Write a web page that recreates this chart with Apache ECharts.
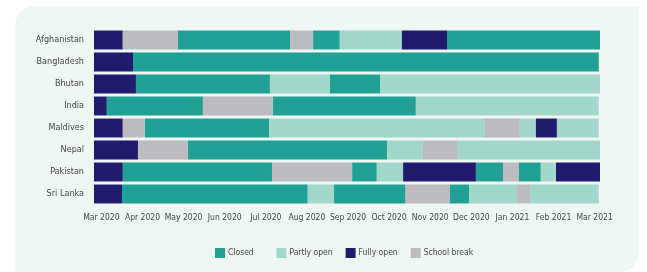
<!DOCTYPE html>
<html>
<head>
<meta charset="utf-8">
<script src="https://cdn.jsdelivr.net/npm/echarts@6/dist/echarts.min.js"></script>
<style>
  html, body { margin: 0; padding: 0; background: #fff; }
  #chart { width: 647px; height: 272px; }
</style>
</head>
<body>
<div id="chart"></div>
<script>
// months counted from Mar 2020 (0) to Mar 2021 (12)
const monthLabels = ['Mar 2020', 'Apr 2020', 'May 2020', 'Jun 2020', 'Jul 2020', 'Aug 2020',
    'Sep 2020', 'Oct 2020', 'Nov 2020', 'Dec 2020', 'Jan 2021', 'Feb 2021', 'Mar 2021']
const countries = ['Afghanistan', 'Bangladesh', 'Bhutan', 'India', 'Maldives', 'Nepal', 'Pakistan', 'Sri Lanka']
const statuses = ['Closed', 'Partly open', 'Fully open', 'School break']
const colors = ['#21a195', '#a2d8cb', '#211b6e', '#bcbcc0']

const periodStart = -0.18
// each entry: [status, end of period in months]
const afghanistan = [['Fully open', 0.52], ['School break', 1.86], ['Closed', 4.59], ['School break', 5.15],
    ['Closed', 5.8], ['Partly open', 7.31], ['Fully open', 8.41], ['Closed', 12.13]]
const bangladesh = [['Fully open', 0.77], ['Closed', 12.1]]
const bhutan = [['Fully open', 0.84], ['Closed', 4.1], ['Partly open', 5.56], ['Closed', 6.78], ['Partly open', 12.13]]
const india = [['Fully open', 0.13], ['Closed', 2.47], ['School break', 4.17], ['Closed', 7.65], ['Partly open', 12.1]]
const maldives = [['Fully open', 0.52], ['School break', 1.06], ['Closed', 4.08], ['Partly open', 9.33],
    ['School break', 10.18], ['Partly open', 10.57], ['Fully open', 11.08], ['Partly open', 12.1]]
const nepal = [['Fully open', 0.89], ['School break', 2.1], ['Closed', 6.95], ['Partly open', 7.82],
    ['School break', 8.67], ['Partly open', 12.13]]
const pakistan = [['Fully open', 0.52], ['Closed', 4.15], ['School break', 6.1], ['Closed', 6.7], ['Partly open', 7.34],
    ['Fully open', 9.11], ['Closed', 9.77], ['School break', 10.16], ['Closed', 10.69], ['Partly open', 11.06],
    ['Fully open', 12.13]]
const sriLanka = [['Fully open', 0.5], ['Closed', 5.02], ['Partly open', 5.66], ['Closed', 7.4], ['School break', 8.47],
    ['Closed', 8.95], ['Partly open', 10.11], ['School break', 10.43], ['Partly open', 12.1]]

const timelines = [afghanistan, bangladesh, bhutan, india, maldives, nepal, pakistan, sriLanka]

const font = "'Liberation Sans Narrow', 'DejaVu Sans Condensed', sans-serif"

const renderSegment = (params, api) => {
    const start = api.coord([api.value(0), api.value(2)])
    const end = api.coord([api.value(1), api.value(2)])
    const h = api.size([0, 1])[1] * 0.86
    return {
        type: 'rect',
        shape: { x: start[0], y: start[1] - h / 2, width: end[0] - start[0], height: h },
        style: { fill: api.visual('color') }
    }
}

const series = statuses.map((status, si) => {
    const data = []
    timelines.forEach((list, ci) => {
        let from = periodStart
        list.forEach(([s, to]) => {
            if (s === status) data.push([from, to, ci])
            from = to
        })
    })
    return {
        name: status,
        type: 'custom',
        renderItem: renderSegment,
        itemStyle: { color: colors[si] },
        encode: { x: [0, 1], y: 2 },
        data
    }
})

const chart = echarts.init(document.getElementById('chart'))
chart.setOption({
    animation: false,
    textStyle: { fontFamily: font },
    graphic: [{
        type: 'rect',
        z: -10,
        shape: { x: 15, y: 6, width: 624, height: 266, r: [20, 0, 20, 0] },
        style: { fill: '#eef7f4' }
    }],
    grid: { left: 94, right: 47, top: 29, bottom: 67 },
    xAxis: {
        type: 'value',
        min: periodStart,
        max: 12.13,
        splitLine: { show: false },
        axisLine: { show: false },
        axisTick: { show: false },
        axisLabel: {
            customValues: monthLabels.map((m, i) => i),
            formatter: v => monthLabels[Math.round(v)],
            showMinLabel: true,
            showMaxLabel: true,
            hideOverlap: false,
            color: '#444',
            fontSize: 8.5,
            margin: 8,
            fontFamily: font
        }
    },
    yAxis: {
        type: 'category',
        data: countries,
        inverse: true,
        axisLine: { show: false },
        axisTick: { show: false },
        axisLabel: { color: '#444', fontSize: 9, margin: 10, fontFamily: font }
    },
    legend: {
        left: 215,
        top: 248,
        padding: 0,
        itemWidth: 10,
        itemHeight: 10,
        itemGap: 13,
        icon: 'rect',
        // extra room after the first entry, as in the original
        formatter: name => name === 'Closed' ? name + '    ' : name,
        textStyle: { color: '#444', fontSize: 8.5, padding: [0, 0, 0, -2], fontFamily: font },
        data: statuses
    },
    series
})
</script>
</body>
</html>
